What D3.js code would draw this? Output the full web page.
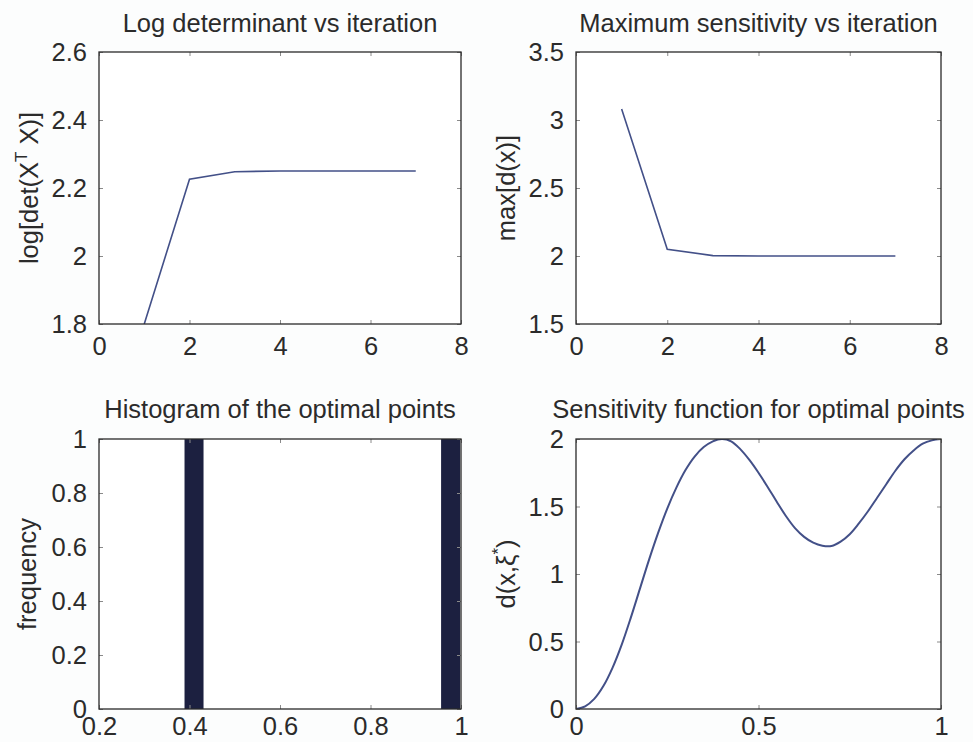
<!DOCTYPE html>
<html>
<head>
<meta charset="utf-8">
<script src="https://cdn.jsdelivr.net/npm/d3@7"></script>
<style>
  html, body { margin: 0; padding: 0; background: #fcfdfd; }
  svg { display: block; }
  text { font-family: "Liberation Sans", Arial, Helvetica, sans-serif; fill: #2b2b2b; }
</style>
</head>
<body>
<svg id="fig" width="973" height="742"></svg>
<script>
// Iteration history of the design algorithm
const iterations = [1, 2, 3, 4, 5, 6, 7];
const logDet = [1.80, 2.226, 2.248, 2.250, 2.250, 2.250, 2.250];
const maxSens = [3.08, 2.05, 2.003, 2.0, 2.0, 2.0, 2.0];

// Histogram of optimal support points
const histCenters = [0.41, 0.977];
const histCounts = [1, 1];
const histWidth = 0.042;

// Sensitivity function d(x, xi*) over the design region
const sensX = [0, 0.025, 0.05, 0.075, 0.1, 0.125, 0.15, 0.175, 0.2, 0.225, 0.25, 0.275,
  0.3, 0.325, 0.35, 0.375, 0.4, 0.425, 0.45, 0.475, 0.5, 0.525, 0.55, 0.575, 0.6,
  0.625, 0.65, 0.675, 0.7, 0.725, 0.75, 0.775, 0.8, 0.825, 0.85, 0.875, 0.9, 0.925,
  0.95, 0.975, 1.0];
const sensD = [0, 0.02, 0.075, 0.17, 0.305, 0.475, 0.675, 0.89, 1.105, 1.305, 1.485, 1.64,
  1.77, 1.87, 1.94, 1.983, 2.0, 1.983, 1.925, 1.845, 1.75, 1.645, 1.535, 1.43, 1.34,
  1.275, 1.232, 1.21, 1.208, 1.24, 1.295, 1.375, 1.465, 1.565, 1.665, 1.765, 1.85, 1.915,
  1.965, 1.99, 2.0];

// Tick values per axis
const iterTicks = [0, 2, 4, 6, 8];
const logDetTicks = [1.8, 2, 2.2, 2.4, 2.6];
const maxSensTicks = [1.5, 2, 2.5, 3, 3.5];
const histXTicks = [0.2, 0.4, 0.6, 0.8, 1];
const histYTicks = [0, 0.2, 0.4, 0.6, 0.8, 1];
const sensXTicks = [0, 0.5, 1];
const sensYTicks = [0, 0.5, 1, 1.5, 2];

const svg = d3.select("#fig");
const FONT = 25.5;
const LINE = "#435088";
const BAR = "#1c2040";
const fmt = d => String(+d.toFixed(2));

function panel(opts) {
  const { left, right, top, bottom, xDomain, yDomain, xTicks, yTicks, title } = opts;
  const x = d3.scaleLinear().domain(xDomain).range([left, right]);
  const y = d3.scaleLinear().domain(yDomain).range([bottom, top]);
  const g = svg.append("g");

  g.append("rect").attr("x", left).attr("y", top)
    .attr("width", right - left).attr("height", bottom - top)
    .attr("fill", "#ffffff");

  const clipId = "clip" + Math.round(left) + "_" + Math.round(top);
  g.append("clipPath").attr("id", clipId).append("rect")
    .attr("x", left).attr("y", top).attr("width", right - left).attr("height", bottom - top);
  const plot = g.append("g").attr("clip-path", `url(#${clipId})`);

  opts.draw(plot, x, y);

  // Inward ticks on all four sides
  const tl = 4;
  const axB = d3.axisBottom(x).tickValues(xTicks).tickSizeInner(-tl).tickSizeOuter(0).tickFormat(fmt).tickPadding(opts.xPad);
  const axT = d3.axisTop(x).tickValues(xTicks).tickSizeInner(-tl).tickSizeOuter(0).tickFormat("");
  const axL = d3.axisLeft(y).tickValues(yTicks).tickSizeInner(-tl).tickSizeOuter(0).tickFormat(fmt).tickPadding(12);
  const axR = d3.axisRight(y).tickValues(yTicks).tickSizeInner(-tl).tickSizeOuter(0).tickFormat("");

  const styleAxis = sel => {
    sel.select(".domain").remove();
    sel.selectAll(".tick line").attr("stroke", "#8a8a8a").attr("stroke-width", 1);
    sel.selectAll(".tick text").attr("font-size", FONT).attr("fill", "#2b2b2b")
      .attr("font-family", '"Liberation Sans", Arial, sans-serif');
  };
  g.append("g").attr("transform", `translate(0,${bottom})`).call(axB).call(styleAxis)
    .selectAll(".tick text").attr("dy", "0.74em");
  g.append("g").attr("transform", `translate(0,${top})`).call(axT).call(styleAxis);
  g.append("g").attr("transform", `translate(${left},0)`).call(axL).call(styleAxis)
    .selectAll(".tick text").attr("dy", "0.34em");
  g.append("g").attr("transform", `translate(${right},0)`).call(axR).call(styleAxis);

  g.append("rect").attr("x", left).attr("y", top)
    .attr("width", right - left).attr("height", bottom - top)
    .attr("fill", "none").attr("stroke", "#2a2a2a").attr("stroke-width", 1.3);

  g.append("text").attr("x", (left + right) / 2).attr("y", top - opts.titleGap)
    .attr("text-anchor", "middle").attr("font-size", FONT).text(title);

  const yl = g.append("text")
    .attr("transform", `translate(${left - (opts.yOff || 61)},${(top + bottom) / 2}) rotate(-90)`)
    .attr("text-anchor", "middle").attr("font-size", FONT);
  opts.ylabel(yl);
}

const line = (x, y) => d3.line().x(d => x(d[0])).y(d => y(d[1]));

// Top left: log determinant
panel({
  left: 99, right: 461, top: 52, bottom: 324, titleGap: 20, xPad: 12,
  xDomain: [0, 8], yDomain: [1.8, 2.6], xTicks: iterTicks, yTicks: logDetTicks,
  title: "Log determinant vs iteration",
  draw: (p, x, y) => {
    p.append("path").datum(d3.zip(iterations, logDet))
      .attr("d", line(x, y)).attr("fill", "none")
      .attr("stroke", LINE).attr("stroke-width", 1.6);
  },
  ylabel: t => {
    t.append("tspan").text("log[det(X");
    t.append("tspan").attr("font-size", 17).attr("dy", -11).text("T");
    t.append("tspan").attr("dy", 11).text(" X)]");
  }
});

// Top right: maximum sensitivity
panel({
  left: 576, right: 941, top: 52, bottom: 324, titleGap: 20, xPad: 12,
  xDomain: [0, 8], yDomain: [1.5, 3.5], xTicks: iterTicks, yTicks: maxSensTicks,
  title: "Maximum sensitivity vs iteration",
  draw: (p, x, y) => {
    p.append("path").datum(d3.zip(iterations, maxSens))
      .attr("d", line(x, y)).attr("fill", "none")
      .attr("stroke", LINE).attr("stroke-width", 1.6);
  },
  ylabel: t => t.text("max[d(x)]")
});

// Bottom left: histogram
panel({
  left: 99, right: 461, top: 439, bottom: 709, titleGap: 21, yOff: 63, xPad: 7,
  xDomain: [0.2, 1], yDomain: [0, 1], xTicks: histXTicks, yTicks: histYTicks,
  title: "Histogram of the optimal points",
  draw: (p, x, y) => {
    p.selectAll("rect.bar").data(d3.zip(histCenters, histCounts)).join("rect")
      .attr("class", "bar")
      .attr("x", d => x(d[0] - histWidth / 2))
      .attr("width", d => x(d[0] + histWidth / 2) - x(d[0] - histWidth / 2))
      .attr("y", d => y(d[1]))
      .attr("height", d => y(0) - y(d[1]))
      .attr("fill", BAR);
  },
  ylabel: t => t.text("frequency")
});

// Bottom right: sensitivity function
panel({
  left: 576, right: 941, top: 439, bottom: 709, titleGap: 21, xPad: 7,
  xDomain: [0, 1], yDomain: [0, 2], xTicks: sensXTicks, yTicks: sensYTicks,
  title: "Sensitivity function for optimal points",
  draw: (p, x, y) => {
    p.append("path").datum(d3.zip(sensX, sensD))
      .attr("d", line(x, y).curve(d3.curveCatmullRom)).attr("fill", "none")
      .attr("stroke", LINE).attr("stroke-width", 2);
  },
  ylabel: t => {
    t.append("tspan").text("d(x,\u03BE");
    t.append("tspan").attr("font-size", 17).attr("dy", -11).text("*");
    t.append("tspan").attr("dy", 11).text(")");
  }
});
</script>
</body>
</html>
